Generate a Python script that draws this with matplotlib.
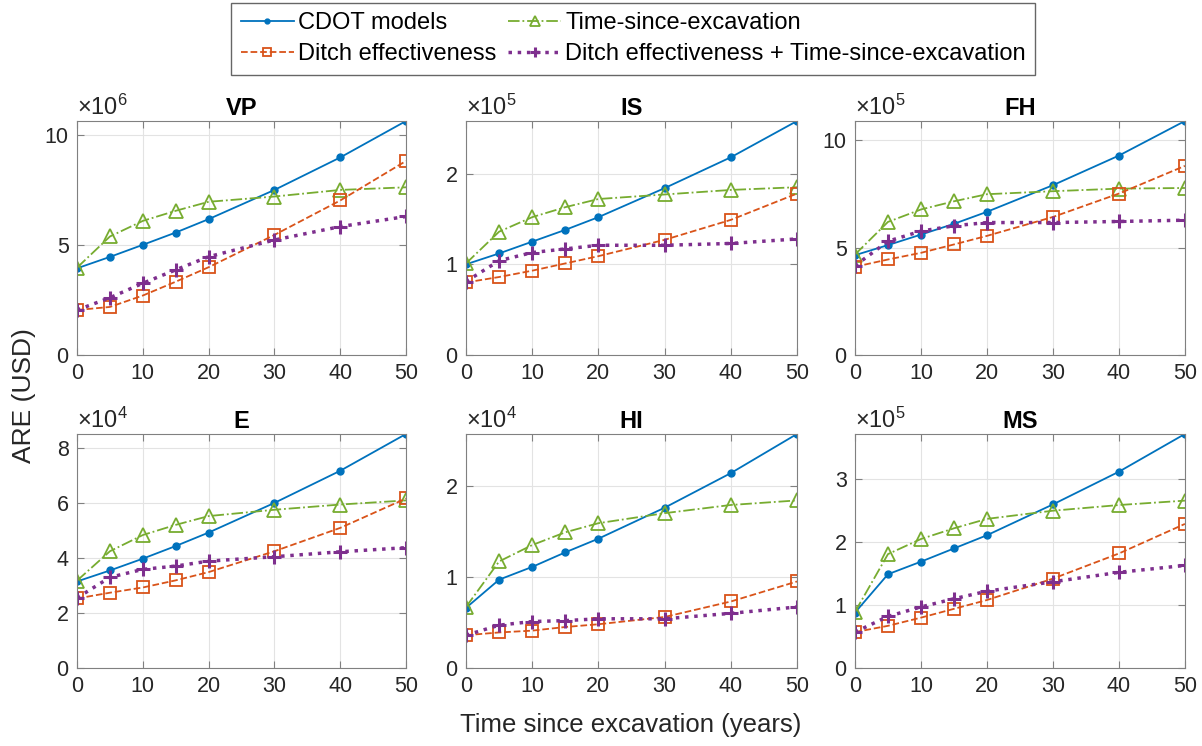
#!/usr/bin/env python3
import matplotlib
matplotlib.use("Agg")
import matplotlib.pyplot as plt

plt.rcParams["font.family"] = ["Liberation Sans", "DejaVu Sans"]
plt.rcParams["mathtext.fontset"] = "custom"
plt.rcParams["mathtext.rm"] = "Liberation Sans"
plt.rcParams["mathtext.it"] = "Liberation Sans"

years = [0, 5, 10, 15, 20, 30, 40, 50]
panels = ["VP", "IS", "FH", "E", "HI", "MS"]
exponents = [6, 5, 5, 4, 4, 5]
yticks = [[0, 5, 10], [0, 1, 2], [0, 5, 10], [0, 2, 4, 6, 8], [0, 1, 2], [0, 1, 2, 3]]

# values in units of 10^exponent
cdot = {
    "VP": [3.95, 4.47, 5.02, 5.58, 6.19, 7.52, 9.0, 10.66],
    "IS": [1.0, 1.12, 1.25, 1.38, 1.52, 1.84, 2.18, 2.58],
    "FH": [4.65, 5.12, 5.61, 6.11, 6.67, 7.91, 9.29, 10.9],
    "E": [3.15, 3.55, 3.98, 4.44, 4.93, 6.01, 7.18, 8.52],
    "HI": [0.66, 0.97, 1.11, 1.27, 1.42, 1.76, 2.14, 2.57],
    "MS": [0.88, 1.49, 1.69, 1.90, 2.11, 2.60, 3.12, 3.72],
}
ditch = {
    "VP": [2.05, 2.19, 2.71, 3.34, 4.0, 5.47, 7.04, 8.84],
    "IS": [0.80, 0.86, 0.93, 1.01, 1.09, 1.27, 1.49, 1.78],
    "FH": [4.11, 4.45, 4.76, 5.15, 5.55, 6.43, 7.52, 8.81],
    "E": [2.53, 2.74, 2.93, 3.19, 3.49, 4.25, 5.10, 6.17],
    "HI": [0.36, 0.39, 0.41, 0.45, 0.48, 0.56, 0.73, 0.95],
    "MS": [0.57, 0.67, 0.80, 0.94, 1.08, 1.42, 1.82, 2.29],
}
time_exc = {
    "VP": [3.98, 5.40, 6.11, 6.57, 6.98, 7.22, 7.52, 7.64],
    "IS": [1.01, 1.36, 1.52, 1.63, 1.72, 1.77, 1.82, 1.85],
    "FH": [4.68, 6.20, 6.78, 7.16, 7.49, 7.63, 7.75, 7.78],
    "E": [3.18, 4.25, 4.84, 5.21, 5.53, 5.76, 5.95, 6.10],
    "HI": [0.67, 1.17, 1.35, 1.49, 1.59, 1.70, 1.79, 1.84],
    "MS": [0.89, 1.81, 2.05, 2.22, 2.37, 2.50, 2.59, 2.66],
}
combined = {
    "VP": [2.05, 2.61, 3.27, 3.88, 4.48, 5.24, 5.85, 6.31],
    "IS": [0.81, 1.04, 1.13, 1.17, 1.21, 1.21, 1.23, 1.28],
    "FH": [4.16, 5.30, 5.77, 6.02, 6.17, 6.17, 6.22, 6.28],
    "E": [2.55, 3.30, 3.59, 3.71, 3.89, 4.05, 4.23, 4.38],
    "HI": [0.36, 0.47, 0.51, 0.52, 0.54, 0.54, 0.60, 0.67],
    "MS": [0.57, 0.82, 0.97, 1.10, 1.22, 1.37, 1.52, 1.63],
}

lefts = [0.0641, 0.3877, 0.7113]
widths = [0.2737, 0.2754, 0.2745]
bottoms = [0.5241, 0.1046]
height = 0.3137

fig = plt.figure(figsize=(12.02, 7.46), dpi=100)
handles = None
for i, name in enumerate(panels):
    r, c = divmod(i, 3)
    ax = fig.add_axes([lefts[c], bottoms[r], widths[c], height])
    h1, = ax.plot(years, cdot[name], "-", color="#0072BD", lw=1.3,
                  marker="o", ms=5, label="CDOT models")
    h3, = ax.plot(years, time_exc[name], "-.", color="#77AC30", lw=1.3,
                  marker="^", ms=10, mfc="none", mew=1.3,
                  label="Time-since-excavation")
    h2, = ax.plot(years, ditch[name], "--", color="#D95319", lw=1.3,
                  marker="s", ms=8, mfc="none", mew=1.3,
                  label="Ditch effectiveness")
    h4, = ax.plot(years, combined[name], ":", color="#7E2F8E", lw=2.5,
                  marker="+", ms=10, mew=2.2,
                  label="Ditch effectiveness + Time-since-excavation")
    handles = [h1, h2, h3, h4]

    ymax = max(cdot[name] + ditch[name] + time_exc[name] + combined[name])
    ax.set_xlim(0, 50)
    ax.set_ylim(0, ymax)
    ax.set_xticks([0, 10, 20, 30, 40, 50])
    ax.set_yticks(yticks[i])
    ax.grid(True, color="#e3e3e3", lw=0.8)
    ax.set_axisbelow(True)
    ax.tick_params(direction="in", top=True, right=True, labelsize=15.5,
                   color="#808080", labelcolor="#262626", length=5, pad=6)
    for s in ax.spines.values():
        s.set_color("#808080")
    ax.set_title(name, fontsize=17, fontweight="bold", pad=4)
    ax.text(0.0, 1.005, r"$\times10^{%d}$" % exponents[i], transform=ax.transAxes,
            ha="left", va="bottom", fontsize=17, color="#262626")

leg = fig.legend(handles=handles, ncol=2, loc="upper center",
                 bbox_to_anchor=(0.527, 0.996), fontsize=17, frameon=True,
                 fancybox=False, edgecolor="#404040", handlelength=2.25,
                 handletextpad=0.17, columnspacing=0.5, labelspacing=0.38,
                 borderpad=0.4, borderaxespad=0.0, markerscale=0.7)
fig.text(0.02, 0.47, "ARE (USD)", rotation=90, ha="center", va="center",
         fontsize=19, color="#262626")
fig.text(0.525, 0.028, "Time since excavation (years)", ha="center",
         va="center", fontsize=18.5, color="#262626")

fig.savefig("out.png", dpi=100)
plt.close(fig)
